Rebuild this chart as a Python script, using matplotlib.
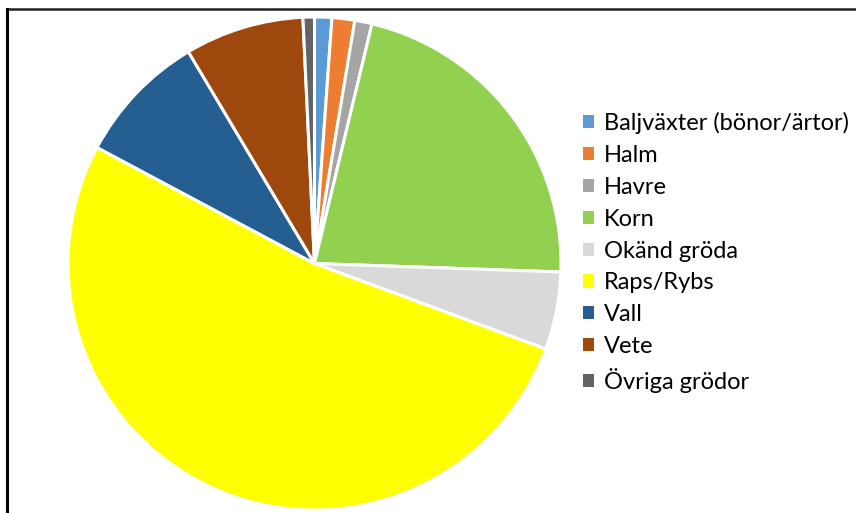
import matplotlib
matplotlib.use("Agg")
import matplotlib.pyplot as plt
from matplotlib.patches import Patch
from matplotlib.lines import Line2D

# andel per gröda (%)
grodor = ["Baljväxter (bönor/ärtor)", "Halm", "Havre", "Korn", "Okänd gröda",
          "Raps/Rybs", "Vall", "Vete", "Övriga grödor"]
andel = [1.13, 1.49, 1.13, 21.8, 5.09, 52.16, 8.65, 7.8, 0.75]
farger = ["#5B9BD5", "#ED7D31", "#A5A5A5", "#92D050", "#D9D9D9",
          "#FFFF00", "#255E91", "#9E480E", "#636363"]

plt.rcParams['font.family'] = ['Lato', 'DejaVu Sans']

fig = plt.figure(figsize=(8.56, 5.13), dpi=100)
ax = fig.add_axes([68 / 856, 3 / 513, 493 / 856, 493 / 513])
ax.pie(andel, colors=farger, startangle=90, counterclock=False,
       wedgeprops=dict(edgecolor="white", linewidth=2.2))
ax.set_xlim(-1, 1)
ax.set_ylim(-1, 1)
ax.set_aspect("equal")
ax.axis("off")

# ram (övre och vänster kant syns)
fig.add_artist(Line2D([7.5 / 856, 1.0], [1 - 9.3 / 513, 1 - 9.3 / 513],
                      transform=fig.transFigure, color="#222222", lw=1.8))
fig.add_artist(Line2D([7.5 / 856, 7.5 / 856], [0, 1 - 9.3 / 513],
                      transform=fig.transFigure, color="#000000", lw=2.2))

handles = [Patch(facecolor=c, edgecolor="none") for c in farger]
fig.legend(handles, grodor, loc="upper left", bbox_to_anchor=(583 / 856, 1 - 112 / 513),
           frameon=False, fontsize=17, handlelength=0.48, handleheight=0.48,
           handletextpad=0.4, labelspacing=0.46, borderpad=0, borderaxespad=0)

fig.savefig("out.png", dpi=100)
